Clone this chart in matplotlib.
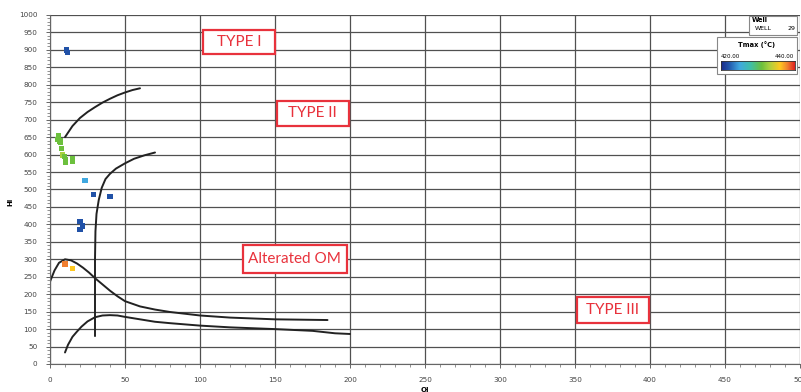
import matplotlib
matplotlib.use("Agg")
import matplotlib.pyplot as plt
import numpy as np
from matplotlib.patches import Rectangle
from matplotlib.colors import LinearSegmentedColormap

# Rock-Eval samples: Oxygen Index, Hydrogen Index, Tmax
oi = [11, 11.5, 5.6, 4.9, 6.7, 7.1, 7.8, 8.2, 9.6, 10.4, 10.4, 14.9, 14.9,
      23.3, 28.9, 40, 20, 21.5, 20, 10, 15.1]
hi = [900, 893, 654, 644, 639, 634, 618, 599, 594, 584, 579, 587, 582,
      525, 486, 480, 408, 395, 386, 286, 274]
tmax = [422, 422, 431, 431, 431, 431, 431, 433, 431, 431, 431, 431, 431,
        425, 422, 422, 422, 422, 422, 438, 436]

# Kerogen type boundary curves
type1_x = [10, 15, 20, 25, 30, 35, 40, 45, 50, 55, 60]
type1_y = [650, 682, 705, 722, 736, 749, 760, 770, 778, 785, 790]

type2_x = [30, 30, 30.3, 31, 32.5, 34.5, 37, 40, 44, 50, 56, 63, 70]
type2_y = [80, 300, 380, 430, 470, 505, 530, 545, 560, 575, 588, 598, 606]

altered_x = [0, 3, 6, 10, 14, 18, 22, 26, 30, 35, 40, 45, 50, 60, 70, 80, 100, 120, 150, 185]
altered_y = [236, 268, 290, 300, 297, 288, 276, 262, 246, 228, 210, 194, 180, 165, 156, 149, 139, 133, 128, 126]

lower_x = [10, 12, 15, 18, 21, 25, 30, 35, 40, 45, 50, 60, 70, 80, 100, 120, 150, 175, 190, 200]
lower_y = [33, 55, 78, 93, 107, 122, 134, 139, 140, 139, 135, 128, 121, 117, 110, 105, 100, 95, 88, 86]

labels = ["TYPE I", "TYPE II", "Alterated OM", "TYPE III"]
label_x = [126, 175, 163, 375]
label_y = [922, 719, 301, 155]
# box sizes in pixels (width, height)
label_w = [72, 72, 104, 72]
label_h = [24, 25, 28, 26]

W, H = 801, 392
fig = plt.figure(figsize=(W / 100, H / 100), dpi=100)
ax = fig.add_axes([50 / W, 1 - 364 / H, 750 / W, 349 / H])

grid_c = "#505050"
ax.set_xlim(0, 500)
ax.set_ylim(0, 1000)
ax.set_xticks(np.arange(0, 501, 50))
ax.set_yticks(np.arange(0, 1001, 50))
ax.set_xticks(np.arange(0, 501, 10), minor=True)
ax.set_yticks(np.arange(0, 1001, 10), minor=True)
ax.grid(True, which="major", color=grid_c, lw=0.9)
ax.set_axisbelow(True)
ax.tick_params(which="major", length=3, width=0.7, color="#666", labelsize=5.2,
               labelcolor="#444", pad=6)
ax.tick_params(which="minor", length=2, width=0.5, color="#666")
for side in ["top", "right"]:
    ax.spines[side].set_visible(False)
for side in ["left", "bottom"]:
    ax.spines[side].set_color("#666")
    ax.spines[side].set_linewidth(0.8)

line_kw = dict(color="#222222", lw=1.4, solid_capstyle="round")
ax.plot(type1_x, type1_y, **line_kw)
ax.plot(type2_x, type2_y, **line_kw)
ax.plot(altered_x, altered_y, **line_kw)
ax.plot(lower_x, lower_y, **line_kw)

cmap = LinearSegmentedColormap.from_list("tmax", [
    (0.0, "#1a2a8a"), (0.1, "#2052a8"), (0.25, "#40a8e0"), (0.4, "#3fbfa8"),
    (0.55, "#6cc03c"), (0.65, "#a8d040"), (0.8, "#ffc820"), (0.9, "#f08030"),
    (1.0, "#e02020")])
ax.scatter(oi, hi, c=tmax, cmap=cmap, vmin=420, vmax=440, marker="s",
           s=15, edgecolors="none", zorder=5)

# px -> data scale
sx = 500 / 750
sy = 1000 / 349
for t, x, y, bw, bh in zip(labels, label_x, label_y, label_w, label_h):
    ax.add_patch(Rectangle((x - bw * sx / 2, y - bh * sy / 2), bw * sx, bh * sy,
                           fc="white", ec="#e8323c", lw=1.6, zorder=6))
    ax.text(x, y, t, color="#e8323c", fontsize=11, family="Lato",
            ha="center", va="center", zorder=7)

fig.text(0.013, 0.485, "HI", rotation=90, fontsize=5, fontweight="bold",
         ha="center", va="center")
fig.text(0.531, 0.004, "OI", fontsize=5, fontweight="bold", ha="center", va="center")


def fx(px):
    return px / W


def fy(py):
    return 1 - py / H


# Legend: well box
fig.patches.append(Rectangle((fx(749), fy(35)), fx(797) - fx(749), fy(16) - fy(35),
                             transform=fig.transFigure, fc="white", ec="#888", lw=0.8,
                             zorder=10))
fig.text(fx(752), fy(20.5), "Well", fontsize=4.8, fontweight="bold", va="center",
         zorder=11)
fig.text(fx(755), fy(29), "WELL", fontsize=4.5, va="center", zorder=11)
fig.text(fx(795), fy(29), "29", fontsize=4.5, va="center", ha="right", zorder=11)

# Legend: Tmax colour scale
fig.patches.append(Rectangle((fx(717), fy(74)), fx(797) - fx(717), fy(37) - fy(74),
                             transform=fig.transFigure, fc="white", ec="#888", lw=0.8,
                             zorder=10))
fig.text(fx(757), fy(45), "Tmax (°C)", fontsize=4.8, fontweight="bold",
         ha="center", va="center", zorder=11)
fig.text(fx(721), fy(57), "420.00", fontsize=4.0, va="center", zorder=11)
fig.text(fx(794), fy(57), "440.00", fontsize=4.0, va="center", ha="right", zorder=11)
cax = fig.add_axes([fx(721), fy(70), fx(795) - fx(721), fy(61) - fy(70)], zorder=12)
cax.imshow(np.linspace(0, 1, 256)[None, :], aspect="auto", cmap=cmap)
cax.set_xticks([])
cax.set_yticks([])
for s in cax.spines.values():
    s.set_color("#333")
    s.set_linewidth(0.6)

fig.savefig("out.png", dpi=100)
